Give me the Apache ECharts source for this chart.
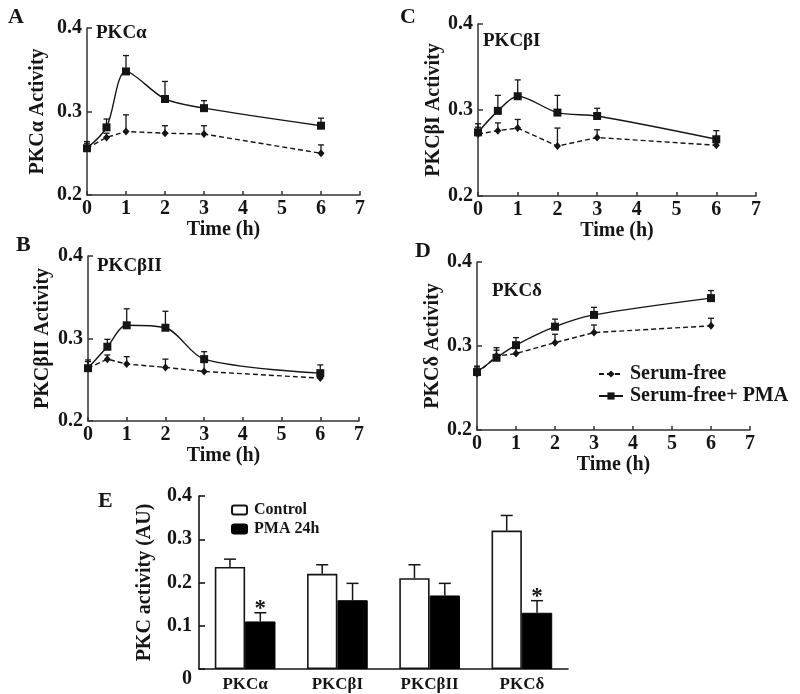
<!DOCTYPE html>
<html>
<head>
<meta charset="utf-8">
<script src="https://cdn.jsdelivr.net/npm/echarts@6/dist/echarts.min.js"></script>
<style>html,body{margin:0;padding:0;background:#fff;}#c{width:800px;height:694px;}</style>
</head>
<body>
<div id="c"></div>
<script>
// ---- data ----
const times = [0, 0.5, 1, 2, 3, 6];
const xTicks = [0, 1, 2, 3, 4, 5, 6, 7];

const pmaA    = [0.256, 0.281, 0.348, 0.315, 0.304, 0.283];
const pmaAErr = [0.264, 0.291, 0.367, 0.336, 0.313, 0.292];
const sfA     = [0.256, 0.269, 0.276, 0.274, 0.273, 0.250];
const sfAErr  = [0.262, 0.274, 0.296, 0.283, 0.283, 0.260];

const pmaC    = [0.274, 0.299, 0.316, 0.297, 0.293, 0.266];
const pmaCErr = [0.284, 0.317, 0.335, 0.317, 0.302, 0.276];
const sfC     = [0.272, 0.276, 0.279, 0.258, 0.268, 0.259];
const sfCErr  = [0.280, 0.285, 0.289, 0.279, 0.277, 0.262];

const pmaB    = [0.264, 0.290, 0.316, 0.313, 0.275, 0.258];
const pmaBErr = [0.272, 0.299, 0.336, 0.333, 0.284, 0.268];
const sfB     = [0.264, 0.275, 0.269, 0.265, 0.260, 0.252];
const sfBErr  = [0.274, 0.280, 0.278, 0.275, 0.271, 0.258];

const pmaD    = [0.269, 0.286, 0.301, 0.323, 0.337, 0.357];
const pmaDErr = [0.276, 0.298, 0.310, 0.332, 0.346, 0.366];
const sfD     = [0.267, 0.288, 0.291, 0.304, 0.316, 0.324];
const sfDErr  = [0.275, 0.295, 0.298, 0.314, 0.325, 0.333];

const isoforms   = ['PKCα', 'PKCβI', 'PKCβII', 'PKCδ'];
const control    = [0.236, 0.220, 0.210, 0.320];
const controlErr = [0.254, 0.241, 0.241, 0.355];
const pma24      = [0.110, 0.159, 0.170, 0.130];
const pma24Err   = [0.130, 0.198, 0.198, 0.158];
const stars      = ['*', '', '', '*'];

const panelLetters = ['A', 'C', 'B', 'D', 'E'];
const panelNames = ['PKCα', 'PKCβI', 'PKCβII', 'PKCδ'];
const yNames = ['PKCα Activity', 'PKCβI Activity', 'PKCβII Activity', 'PKCδ Activity'];

// ---- chart ----
const FONT = 'Liberation Serif';
const INK = '#151515';
const chart = echarts.init(document.getElementById('c'), null, {renderer: 'canvas'});

const grids = [
  {left: 87,  top: 28,  width: 273, height: 167},
  {left: 478, top: 24,  width: 278, height: 172},
  {left: 88,  top: 256, width: 271, height: 165},
  {left: 477, top: 262, width: 273, height: 168},
  {left: 199, top: 496, width: 369, height: 173}
];
const yGaps = [39, 31, 35, 30];

const axisLineStyle = {color: '#333', width: 1.5};
const labelStyle = {fontFamily: FONT, fontWeight: 'bold', fontSize: 20, color: INK};

const xAxes = [], yAxes = [], series = [];
const lineSets = [
  [pmaA, pmaAErr, sfA, sfAErr],
  [pmaC, pmaCErr, sfC, sfCErr],
  [pmaB, pmaBErr, sfB, sfBErr],
  [pmaD, pmaDErr, sfD, sfDErr]
];

function errRender(capHalf) {
  return function (params, api) {
    const x = api.value(0), v = api.value(1), t = api.value(2);
    const p1 = api.coord([x, v]), p2 = api.coord([x, t]);
    const st = {stroke: INK, lineWidth: 1.3};
    return {type: 'group', children: [
      {type: 'line', shape: {x1: p1[0], y1: p1[1], x2: p2[0], y2: p2[1]}, style: st},
      {type: 'line', shape: {x1: p2[0] - capHalf, y1: p2[1], x2: p2[0] + capHalf, y2: p2[1]}, style: st}
    ]};
  };
}

for (let g = 0; g < 4; g++) {
  xAxes.push({
    gridIndex: g, type: 'value', min: 0, max: 7, interval: 1,
    name: 'Time (h)', nameLocation: 'middle', nameGap: 22,
    nameTextStyle: labelStyle,
    axisLine: {lineStyle: axisLineStyle},
    axisTick: {inside: true, length: 4, lineStyle: axisLineStyle},
    axisLabel: Object.assign({margin: 4, customValues: xTicks}, labelStyle),
    splitLine: {show: false}
  });
  yAxes.push({
    gridIndex: g, type: 'value', min: 0.2, max: 0.4, interval: 0.1,
    name: yNames[g], nameLocation: 'middle', nameGap: yGaps[g],
    nameTextStyle: labelStyle,
    axisLine: {show: true, lineStyle: axisLineStyle},
    axisTick: {show: true, inside: true, length: 5, lineStyle: axisLineStyle},
    axisLabel: Object.assign({margin: 5, formatter: v => v.toFixed(1)}, labelStyle),
    splitLine: {show: false}
  });
  const [pm, pmE, sf, sfE] = lineSets[g];
  series.push({
    type: 'custom', xAxisIndex: g, yAxisIndex: g, z: 1,
    renderItem: errRender(3), data: times.map((t, i) => [t, sf[i], sfE[i]])
  });
  series.push({
    type: 'custom', xAxisIndex: g, yAxisIndex: g, z: 1,
    renderItem: errRender(3), data: times.map((t, i) => [t, pm[i], pmE[i]])
  });
  series.push({
    name: 'Serum-free', type: 'line', xAxisIndex: g, yAxisIndex: g, z: 3,
    data: times.map((t, i) => [t, sf[i]]),
    symbol: 'diamond', symbolSize: [7, 8],
    itemStyle: {color: INK},
    lineStyle: {color: INK, width: 1.4, type: [5, 3]}
  });
  series.push({
    name: 'Serum-free+ PMA', type: 'line', xAxisIndex: g, yAxisIndex: g, z: 4,
    data: times.map((t, i) => [t, pm[i]]),
    smooth: 0.3,
    symbol: 'rect', symbolSize: 8,
    itemStyle: {color: INK},
    lineStyle: {color: INK, width: 1.4}
  });
}

// bar panel E
xAxes.push({
  gridIndex: 4, type: 'category', data: isoforms,
  axisLine: {lineStyle: {color: INK, width: 1.6}},
  axisTick: {show: false},
  axisLabel: Object.assign({}, labelStyle, {fontSize: 17, margin: 7})
});
yAxes.push({
  gridIndex: 4, type: 'value', min: 0, max: 0.4, interval: 0.1,
  name: 'PKC activity (AU)', nameLocation: 'middle', nameGap: 44,
  nameTextStyle: labelStyle,
  axisLine: {show: true, lineStyle: {color: INK, width: 1.6}},
  axisTick: {show: true, inside: true, length: 6, lineStyle: {color: INK, width: 1.6}},
  axisLabel: Object.assign({margin: 7, lineHeight: 19, formatter: v => v === 0 ? '\n0' : v.toFixed(1)}, labelStyle),
  splitLine: {show: false}
});
const BW = 0.329;
series.push({
  name: 'Control', type: 'bar', xAxisIndex: 4, yAxisIndex: 4, data: control,
  barWidth: (BW * 100) + '%', barGap: '0%',
  itemStyle: {color: '#fff', borderColor: INK, borderWidth: 1.6}
});
series.push({
  name: 'PMA 24h', type: 'bar', xAxisIndex: 4, yAxisIndex: 4, data: pma24,
  barWidth: (BW * 100) + '%', barGap: '0%',
  itemStyle: {color: '#000', borderColor: '#000', borderWidth: 1}
});
function barErrRender(dir) {
  return function (params, api) {
    const i = api.value(0), v = api.value(1), t = api.value(2);
    const w = api.size([1, 0])[0];
    const off = dir * w * BW / 2;
    const p1 = api.coord([i, v]), p2 = api.coord([i, t]);
    const x = p1[0] + off;
    const st = {stroke: INK, lineWidth: 1.5};
    const ch = [
      {type: 'line', shape: {x1: x, y1: p1[1], x2: x, y2: p2[1]}, style: st},
      {type: 'line', shape: {x1: x - 6, y1: p2[1], x2: x + 6, y2: p2[1]}, style: st}
    ];
    const star = stars[params.dataIndex];
    if (dir > 0 && star) {
      ch.push({type: 'text', style: {text: star, x: x, y: p2[1] + 8, align: 'center', verticalAlign: 'bottom',
        font: 'bold 23px "Liberation Serif"', fill: INK}});
    }
    return {type: 'group', children: ch};
  };
}
series.push({
  type: 'custom', xAxisIndex: 4, yAxisIndex: 4, z: 1,
  renderItem: barErrRender(-1), data: isoforms.map((c, i) => [i, control[i], controlErr[i]])
});
series.push({
  type: 'custom', xAxisIndex: 4, yAxisIndex: 4, z: 1,
  renderItem: barErrRender(1), data: isoforms.map((c, i) => [i, pma24[i], pma24Err[i]])
});

const letterPos = [[8, 6], [400, 6], [16, 234], [415, 240], [98, 490]];
const namePos = [[96, 24], [483, 32], [97, 257], [492, 282]];
const titles = [];
panelLetters.forEach((t, i) => titles.push({
  text: t, left: letterPos[i][0], top: letterPos[i][1], padding: 0,
  textStyle: {fontFamily: FONT, fontWeight: 'bold', fontSize: 22, color: INK}
}));
panelNames.forEach((t, i) => titles.push({
  text: t, left: namePos[i][0], top: namePos[i][1], padding: 0,
  textStyle: {fontFamily: FONT, fontWeight: 'bold', fontSize: 19, color: INK}
}));

chart.setOption({
  animation: false,
  backgroundColor: '#fff',
  title: titles,
  grid: grids,
  xAxis: xAxes,
  yAxis: yAxes,
  legend: [
    {
      data: ['Serum-free', 'Serum-free+ PMA'], orient: 'vertical',
      left: 598, top: 364, itemGap: 2, itemWidth: 24, itemHeight: 9, padding: 0,
      textStyle: {fontFamily: FONT, fontWeight: 'bold', fontSize: 20, color: INK, padding: [0, 0, 0, 2]}
    },
    {
      data: ['Control', 'PMA 24h'], orient: 'vertical',
      left: 231, top: 502, itemGap: 3, itemWidth: 15, itemHeight: 9, padding: 0,
      textStyle: {fontFamily: FONT, fontWeight: 'bold', fontSize: 16, color: INK, padding: [0, 0, 0, 2]}
    }
  ],
  series: series
});
</script>
</body>
</html>
